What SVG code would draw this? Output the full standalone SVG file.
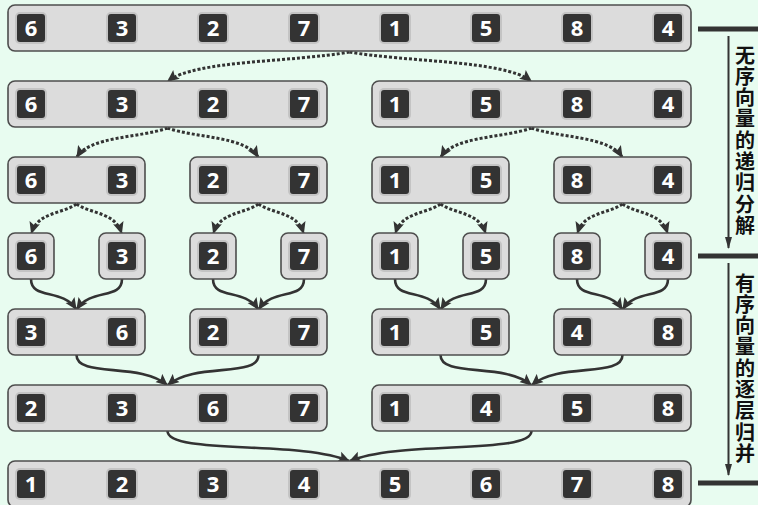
<svg xmlns="http://www.w3.org/2000/svg" xmlns:xlink="http://www.w3.org/1999/xlink" width="758" height="505" viewBox="0 0 758 505">
<style>
.bx{fill:#dcdcdc;stroke:#4d4d4d;stroke-width:1.6}
.halo{fill:#c4c4c4}
.sq{fill:#333}
.num{font-family:"Open Sans","DejaVu Sans",sans-serif;font-weight:700;font-size:22px;fill:#fff;text-anchor:middle}
.dot{fill:none;stroke:#333;stroke-width:3;stroke-dasharray:3 2}
.sol{fill:none;stroke:#333;stroke-width:2.6}
.bar{stroke:#333;stroke-width:5}
.vline{stroke:#333;stroke-width:2}
.lbl{font-family:"Noto Sans CJK SC","Noto Sans",sans-serif;font-weight:700;font-size:20px;fill:#111;writing-mode:vertical-rl;letter-spacing:1.3px}
</style>
<defs>
<g id="chip"><rect class="halo" x="-16" y="-16" width="32" height="32" rx="5"/><rect class="sq" x="-14" y="-14" width="28" height="28" rx="3"/></g>
<marker id="ah" markerUnits="userSpaceOnUse" markerWidth="12" markerHeight="12" refX="9" refY="5" orient="auto" viewBox="0 0 10 10"><path d="M0,0.5 L10,5 L0,9.5 L2,5 Z" fill="#333"/></marker>
<marker id="ahv" markerUnits="userSpaceOnUse" markerWidth="12" markerHeight="8" refX="11" refY="3.5" orient="auto" viewBox="0 0 12 7"><path d="M0,0 L12,3.5 L0,7 Z" fill="#333"/></marker>
</defs>
<rect width="758" height="505" fill="#e8fcf0"/>

<g id="connectors">
<path class="dot" marker-end="url(#ah)" d="M349.5,52 C295,62 195,60 168,81"/>
<path class="dot" marker-end="url(#ah)" d="M349.5,52 C404,62 504,60 531,81"/>
<path class="dot" marker-end="url(#ah)" d="M167.5,128 C140,138 90,136 77,157"/>
<path class="dot" marker-end="url(#ah)" d="M167.5,128 C195,138 245,136 258,157"/>
<path class="dot" marker-end="url(#ah)" d="M531.5,128 C504,138 454,136 441,157"/>
<path class="dot" marker-end="url(#ah)" d="M531.5,128 C559,138 609,136 622,157"/>
<path class="dot" marker-end="url(#ah)" d="M76.5,204 C62,214 38,212 31.5,233"/>
<path class="dot" marker-end="url(#ah)" d="M76.5,204 C91,214 115,212 121.5,233"/>
<path class="dot" marker-end="url(#ah)" d="M258.5,204 C244,214 220,212 213.5,233"/>
<path class="dot" marker-end="url(#ah)" d="M258.5,204 C273,214 297,212 303.5,233"/>
<path class="dot" marker-end="url(#ah)" d="M440.5,204 C426,214 402,212 395.5,233"/>
<path class="dot" marker-end="url(#ah)" d="M440.5,204 C455,214 479,212 485.5,233"/>
<path class="dot" marker-end="url(#ah)" d="M622.5,204 C608,214 584,212 577.5,233"/>
<path class="dot" marker-end="url(#ah)" d="M622.5,204 C637,214 661,212 667.5,233"/>
<path class="sol" marker-end="url(#ah)" d="M31,279 C31,300 62,288 76,309"/>
<path class="sol" marker-end="url(#ah)" d="M122,279 C122,300 91,288 77,309"/>
<path class="sol" marker-end="url(#ah)" d="M213,279 C213,300 244,288 258,309"/>
<path class="sol" marker-end="url(#ah)" d="M304,279 C304,300 273,288 259,309"/>
<path class="sol" marker-end="url(#ah)" d="M395,279 C395,300 426,288 440,309"/>
<path class="sol" marker-end="url(#ah)" d="M486,279 C486,300 455,288 441,309"/>
<path class="sol" marker-end="url(#ah)" d="M577,279 C577,300 608,288 622,309"/>
<path class="sol" marker-end="url(#ah)" d="M668,279 C668,300 637,288 623,309"/>
<path class="sol" marker-end="url(#ah)" d="M76.5,355 C76.5,378 140,362 167,385"/>
<path class="sol" marker-end="url(#ah)" d="M258.5,355 C258.5,378 195,362 168,385"/>
<path class="sol" marker-end="url(#ah)" d="M440.5,355 C440.5,378 504,362 531,385"/>
<path class="sol" marker-end="url(#ah)" d="M622.5,355 C622.5,378 559,362 532,385"/>
<path class="sol" marker-end="url(#ah)" d="M167.5,431 C167.5,455 300,440 349,461"/>
<path class="sol" marker-end="url(#ah)" d="M531.5,431 C531.5,455 399,440 350,461"/>
</g>

<g id="row0">
<rect class="bx" x="8" y="5" width="683" height="46" rx="7"/>
<use href="#chip" x="31" y="28"/><text class="num" x="31" y="36">6</text>
<use href="#chip" x="122" y="28"/><text class="num" x="122" y="36">3</text>
<use href="#chip" x="213" y="28"/><text class="num" x="213" y="36">2</text>
<use href="#chip" x="304" y="28"/><text class="num" x="304" y="36">7</text>
<use href="#chip" x="395" y="28"/><text class="num" x="395" y="36">1</text>
<use href="#chip" x="486" y="28"/><text class="num" x="486" y="36">5</text>
<use href="#chip" x="577" y="28"/><text class="num" x="577" y="36">8</text>
<use href="#chip" x="668" y="28"/><text class="num" x="668" y="36">4</text>
</g>

<g id="row1-a">
<rect class="bx" x="8" y="81" width="319" height="46" rx="7"/>
<use href="#chip" x="31" y="104"/><text class="num" x="31" y="112">6</text>
<use href="#chip" x="122" y="104"/><text class="num" x="122" y="112">3</text>
<use href="#chip" x="213" y="104"/><text class="num" x="213" y="112">2</text>
<use href="#chip" x="304" y="104"/><text class="num" x="304" y="112">7</text>
</g>
<g id="row1-b">
<rect class="bx" x="372" y="81" width="319" height="46" rx="7"/>
<use href="#chip" x="395" y="104"/><text class="num" x="395" y="112">1</text>
<use href="#chip" x="486" y="104"/><text class="num" x="486" y="112">5</text>
<use href="#chip" x="577" y="104"/><text class="num" x="577" y="112">8</text>
<use href="#chip" x="668" y="104"/><text class="num" x="668" y="112">4</text>
</g>

<g id="row2-a">
<rect class="bx" x="8" y="157" width="137" height="46" rx="7"/>
<use href="#chip" x="31" y="180"/><text class="num" x="31" y="188">6</text>
<use href="#chip" x="122" y="180"/><text class="num" x="122" y="188">3</text>
</g>
<g id="row2-b">
<rect class="bx" x="190" y="157" width="137" height="46" rx="7"/>
<use href="#chip" x="213" y="180"/><text class="num" x="213" y="188">2</text>
<use href="#chip" x="304" y="180"/><text class="num" x="304" y="188">7</text>
</g>
<g id="row2-c">
<rect class="bx" x="372" y="157" width="137" height="46" rx="7"/>
<use href="#chip" x="395" y="180"/><text class="num" x="395" y="188">1</text>
<use href="#chip" x="486" y="180"/><text class="num" x="486" y="188">5</text>
</g>
<g id="row2-d">
<rect class="bx" x="554" y="157" width="137" height="46" rx="7"/>
<use href="#chip" x="577" y="180"/><text class="num" x="577" y="188">8</text>
<use href="#chip" x="668" y="180"/><text class="num" x="668" y="188">4</text>
</g>

<g id="row3-a"><rect class="bx" x="8" y="233" width="46" height="46" rx="7"/><use href="#chip" x="31" y="256"/><text class="num" x="31" y="264">6</text></g>
<g id="row3-b"><rect class="bx" x="99" y="233" width="46" height="46" rx="7"/><use href="#chip" x="122" y="256"/><text class="num" x="122" y="264">3</text></g>
<g id="row3-c"><rect class="bx" x="190" y="233" width="46" height="46" rx="7"/><use href="#chip" x="213" y="256"/><text class="num" x="213" y="264">2</text></g>
<g id="row3-d"><rect class="bx" x="281" y="233" width="46" height="46" rx="7"/><use href="#chip" x="304" y="256"/><text class="num" x="304" y="264">7</text></g>
<g id="row3-e"><rect class="bx" x="372" y="233" width="46" height="46" rx="7"/><use href="#chip" x="395" y="256"/><text class="num" x="395" y="264">1</text></g>
<g id="row3-f"><rect class="bx" x="463" y="233" width="46" height="46" rx="7"/><use href="#chip" x="486" y="256"/><text class="num" x="486" y="264">5</text></g>
<g id="row3-g"><rect class="bx" x="554" y="233" width="46" height="46" rx="7"/><use href="#chip" x="577" y="256"/><text class="num" x="577" y="264">8</text></g>
<g id="row3-h"><rect class="bx" x="645" y="233" width="46" height="46" rx="7"/><use href="#chip" x="668" y="256"/><text class="num" x="668" y="264">4</text></g>

<g id="row4-a">
<rect class="bx" x="8" y="309" width="137" height="46" rx="7"/>
<use href="#chip" x="31" y="332"/><text class="num" x="31" y="340">3</text>
<use href="#chip" x="122" y="332"/><text class="num" x="122" y="340">6</text>
</g>
<g id="row4-b">
<rect class="bx" x="190" y="309" width="137" height="46" rx="7"/>
<use href="#chip" x="213" y="332"/><text class="num" x="213" y="340">2</text>
<use href="#chip" x="304" y="332"/><text class="num" x="304" y="340">7</text>
</g>
<g id="row4-c">
<rect class="bx" x="372" y="309" width="137" height="46" rx="7"/>
<use href="#chip" x="395" y="332"/><text class="num" x="395" y="340">1</text>
<use href="#chip" x="486" y="332"/><text class="num" x="486" y="340">5</text>
</g>
<g id="row4-d">
<rect class="bx" x="554" y="309" width="137" height="46" rx="7"/>
<use href="#chip" x="577" y="332"/><text class="num" x="577" y="340">4</text>
<use href="#chip" x="668" y="332"/><text class="num" x="668" y="340">8</text>
</g>

<g id="row5-a">
<rect class="bx" x="8" y="385" width="319" height="46" rx="7"/>
<use href="#chip" x="31" y="408"/><text class="num" x="31" y="416">2</text>
<use href="#chip" x="122" y="408"/><text class="num" x="122" y="416">3</text>
<use href="#chip" x="213" y="408"/><text class="num" x="213" y="416">6</text>
<use href="#chip" x="304" y="408"/><text class="num" x="304" y="416">7</text>
</g>
<g id="row5-b">
<rect class="bx" x="372" y="385" width="319" height="46" rx="7"/>
<use href="#chip" x="395" y="408"/><text class="num" x="395" y="416">1</text>
<use href="#chip" x="486" y="408"/><text class="num" x="486" y="416">4</text>
<use href="#chip" x="577" y="408"/><text class="num" x="577" y="416">5</text>
<use href="#chip" x="668" y="408"/><text class="num" x="668" y="416">8</text>
</g>

<g id="row6">
<rect class="bx" x="8" y="461" width="683" height="46" rx="7"/>
<use href="#chip" x="31" y="484"/><text class="num" x="31" y="492">1</text>
<use href="#chip" x="122" y="484"/><text class="num" x="122" y="492">2</text>
<use href="#chip" x="213" y="484"/><text class="num" x="213" y="492">3</text>
<use href="#chip" x="304" y="484"/><text class="num" x="304" y="492">4</text>
<use href="#chip" x="395" y="484"/><text class="num" x="395" y="492">5</text>
<use href="#chip" x="486" y="484"/><text class="num" x="486" y="492">6</text>
<use href="#chip" x="577" y="484"/><text class="num" x="577" y="492">7</text>
<use href="#chip" x="668" y="484"/><text class="num" x="668" y="492">8</text>
</g>

<g id="legend">
<line class="bar" x1="698" y1="29" x2="758" y2="29"/>
<line class="bar" x1="698" y1="256" x2="758" y2="256"/>
<line class="bar" x1="698" y1="483" x2="758" y2="483"/>
<line class="vline" marker-end="url(#ahv)" x1="728.5" y1="36" x2="728.5" y2="248"/>
<line class="vline" marker-end="url(#ahv)" x1="728.5" y1="263" x2="728.5" y2="475"/>
<text class="lbl" x="745" y="45">无序向量的递归分解</text>
<text class="lbl" x="745" y="273">有序向量的逐层归并</text>
</g>
</svg>
